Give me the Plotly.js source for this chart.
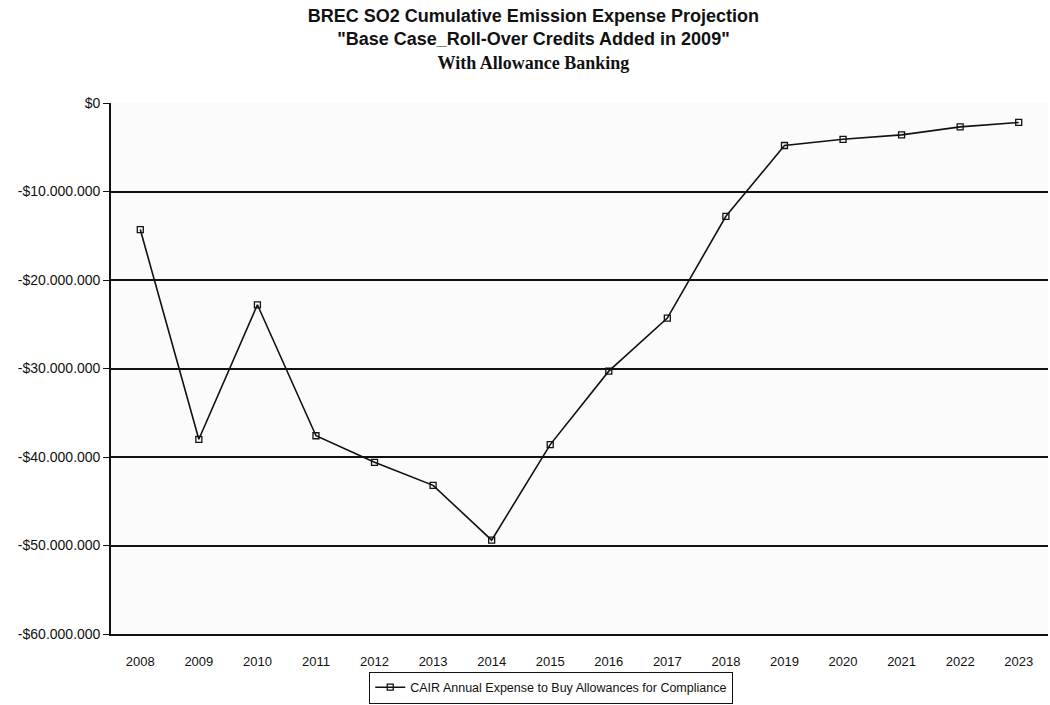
<!DOCTYPE html>
<html>
<head>
<meta charset="utf-8">
<script src="https://cdn.plot.ly/plotly-3.0.1.min.js"></script>
<style>html,body{margin:0;padding:0;background:#fff;}#chart{width:1050px;height:705px;}</style>
</head>
<body>
<div id="chart"></div>
<script>
const years = ['2008','2009','2010','2011','2012','2013','2014','2015','2016','2017','2018','2019','2020','2021','2022','2023'];
const expense = [-14300000,-38000000,-22800000,-37600000,-40600000,-43200000,-49400000,-38600000,-30300000,-24300000,-12800000,-4800000,-4100000,-3600000,-2700000,-2200000];
const seriesName = 'CAIR Annual Expense to Buy Allowances for Compliance';
const yTickVals = [0,-10000000,-20000000,-30000000,-40000000,-50000000,-60000000];
const yTickText = ['$0','-$10.000.000','-$20.000.000','-$30.000.000','-$40.000.000','-$50.000.000','-$60.000.000'];
const titleLines = ['BREC SO2 Cumulative Emission Expense Projection','"Base Case_Roll-Over Credits Added in 2009"','With Allowance Banking'];

const trace = {
  x: years, y: expense, type: 'scatter', mode: 'lines+markers', name: seriesName,
  line: {color: '#111', width: 1.6},
  marker: {symbol: 'square-open', size: 6, color: '#111', line: {width: 1.3}}
};

const layout = {
  width: 1050, height: 705,
  paper_bgcolor: '#fff', plot_bgcolor: '#fbfbfb',
  margin: {l: 111, r: 2, t: 103, b: 71},
  font: {family: 'Liberation Sans, Arial, sans-serif', color: '#111'},
  title: {
    text: '<b>' + titleLines[0] + '</b><br><b>' + titleLines[1] + '</b><br><b><span style="font-family:Liberation Serif, Times New Roman, serif">' + titleLines[2] + '</span></b>',
    font: {size: 18, family: 'Liberation Sans, Arial, sans-serif', color: '#111'},
    x: 0.508, xanchor: 'center', xref: 'container', y: 0.969, yref: 'container', yanchor: 'middle'
  },
  xaxis: {
    type: 'category', range: [-0.5, 15.5],
    showgrid: false, showline: true, linecolor: '#111', linewidth: 1.5,
    ticks: '', tickfont: {size: 13, color: '#111'}, ticklabelstandoff: 15,
    zeroline: false
  },
  yaxis: {
    range: [-60000000, 0], tickvals: yTickVals, ticktext: yTickText,
    showgrid: true, gridcolor: '#111', gridwidth: 1.6,
    showline: true, linecolor: '#111', linewidth: 1.6,
    ticks: 'outside', ticklen: 6, tickcolor: '#111',
    tickfont: {size: 14, color: '#111'}, zeroline: false
  },
  showlegend: true,
  legend: {
    orientation: 'h', x: 0.525, xref: 'container', xanchor: 'center',
    y: 0.002, yref: 'container', yanchor: 'bottom',
    bordercolor: '#111', borderwidth: 1, bgcolor: 'rgba(255,255,255,0)',
    font: {size: 12.5, color: '#111'}, tracegroupgap: 0
  }
};

Plotly.newPlot('chart', [trace], layout, {displayModeBar: false});
</script>
</body>
</html>
